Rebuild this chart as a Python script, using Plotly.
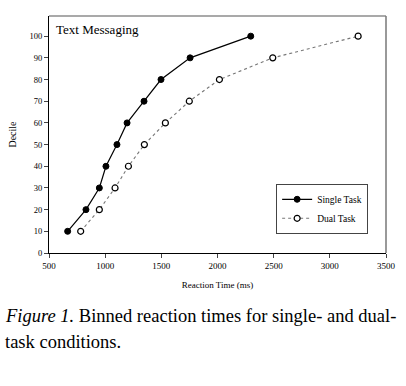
import plotly.graph_objects as go

deciles = [10, 20, 30, 40, 50, 60, 70, 80, 90, 100]
single_rt = [666, 829, 948, 1007, 1105, 1195, 1346, 1497, 1756, 2296]
dual_rt = [782, 948, 1088, 1207, 1349, 1536, 1749, 2017, 2492, 3252]
x_ticks = [500, 1000, 1500, 2000, 2500, 3000, 3500]
y_ticks = [0, 10, 20, 30, 40, 50, 60, 70, 80, 90, 100]

SERIF = "Liberation Serif, Times New Roman, serif"

fig = go.Figure()
fig.add_trace(go.Scatter(
    x=single_rt, y=deciles, name="Single Task", mode="lines+markers",
    line=dict(color="black", width=1.2),
    marker=dict(symbol="circle", size=6, color="black", line=dict(color="black", width=1)),
))
fig.add_trace(go.Scatter(
    x=dual_rt, y=deciles, name="Dual Task", mode="lines+markers",
    line=dict(color="#777777", width=1.1, dash="dot"),
    marker=dict(symbol="circle", size=6, color="white", line=dict(color="black", width=1.2)),
))

fig.update_layout(
    width=406, height=386,
    margin=dict(l=49, r=20, t=16, b=133, autoexpand=False),
    paper_bgcolor="white", plot_bgcolor="white",
    font=dict(family=SERIF, color="black"),
    showlegend=True,
    legend=dict(
        x=0.674, y=0.292, xanchor="left", yanchor="top",
        bgcolor="white", bordercolor="#444444", borderwidth=1,
        font=dict(family=SERIF, size=9.5, color="black"),
        itemwidth=30, tracegroupgap=0,
    ),
    xaxis=dict(
        range=[500, 3500], tickvals=x_ticks, ticks="outside", ticklen=4,
        showline=True, linecolor="black", linewidth=1.2, showgrid=False, zeroline=False,
        tickfont=dict(family=SERIF, size=9, color="black"), automargin=False,
        title=dict(text="Reaction Time (ms)", font=dict(family=SERIF, size=9, color="black"), standoff=11),
    ),
    yaxis=dict(
        range=[0, 109.3], tickvals=y_ticks, ticks="outside", ticklen=4,
        showline=True, linecolor="black", linewidth=1.2, showgrid=False, zeroline=False,
        tickfont=dict(family=SERIF, size=8.5, color="black"), automargin=False,
        title=dict(text="Decile", font=dict(family=SERIF, size=10, color="black"), standoff=10),
    ),
    shapes=[
        dict(type="line", xref="paper", yref="paper", x0=0, x1=1, y0=1, y1=1,
             line=dict(color="#555555", width=1.2)),
        dict(type="line", xref="paper", yref="paper", x0=1, x1=1, y0=0, y1=1,
             line=dict(color="#777777", width=1.5)),
    ],
    annotations=[
        dict(text="Text Messaging", xref="paper", yref="paper", x=0.015, y=0.985,
             xanchor="left", yanchor="top", showarrow=False,
             font=dict(family=SERIF, size=13, color="black")),
        dict(text="<i>Figure 1.</i> Binned reaction times for single- and dual-",
             xref="paper", yref="paper", x=-0.136, y=-0.215, xanchor="left", yanchor="top",
             showarrow=False, font=dict(family=SERIF, size=18.5, color="black")),
        dict(text="task conditions.",
             xref="paper", yref="paper", x=-0.136, y=-0.325, xanchor="left", yanchor="top",
             showarrow=False, font=dict(family=SERIF, size=18.5, color="black")),
    ],
)

fig.write_html("out.html", config={"displayModeBar": False},
               post_script="document.body.style.margin='0px';")
